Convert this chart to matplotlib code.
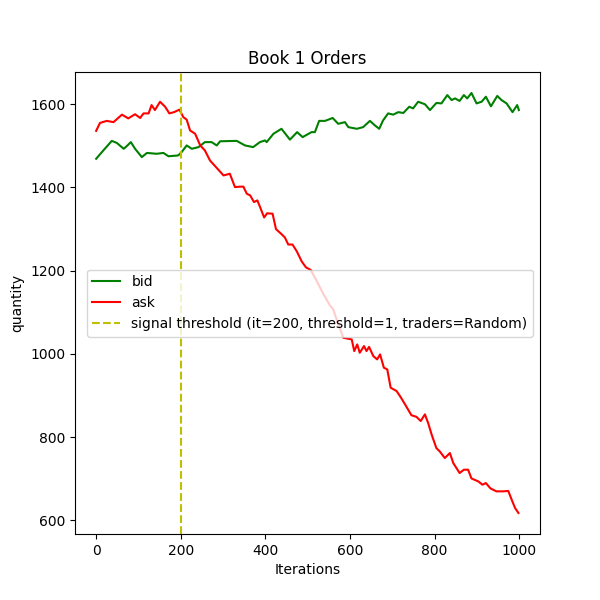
import matplotlib
matplotlib.use('Agg')
import matplotlib.pyplot as plt

# values (iteration, quantity)
bid_x = [0, 17, 37, 49, 65, 72, 82, 92, 108, 120, 143, 159, 171, 194, 202, 214, 226, 242, 257, 273,
         285, 293, 332, 352, 371, 387, 399, 403, 419, 438, 458, 475, 488, 509, 517, 527, 541, 559, 572, 588,
         596, 616, 631, 647, 659, 669, 678, 690, 702, 714, 726, 740, 749, 761, 777, 789, 804, 816, 830, 840,
         848, 859, 869, 877, 887, 899, 911, 921, 933, 948, 958, 970, 984, 995, 999]
bid_y = [1469, 1489, 1512, 1507, 1493, 1499, 1509, 1493, 1473, 1483, 1481, 1483, 1475, 1477, 1485, 1501, 1493, 1497, 1509, 1509,
         1501, 1511, 1512, 1501, 1497, 1509, 1513, 1509, 1529, 1541, 1515, 1533, 1521, 1533, 1533, 1560, 1560, 1567, 1553, 1557,
         1545, 1541, 1545, 1560, 1549, 1541, 1561, 1578, 1575, 1581, 1579, 1594, 1590, 1606, 1600, 1586, 1603, 1602, 1622, 1610,
         1614, 1608, 1622, 1614, 1627, 1602, 1606, 1618, 1595, 1620, 1610, 1602, 1581, 1598, 1586]

ask_x = [0, 9, 25, 41, 61, 76, 92, 104, 112, 124, 131, 139, 151, 163, 173, 184, 197, 206, 214, 222,
         234, 246, 257, 269, 285, 301, 316, 328, 340, 348, 356, 364, 373, 381, 387, 397, 404, 417, 425, 438,
         446, 454, 464, 474, 486, 496, 507, 521, 537, 553, 560, 572, 584, 604, 610, 617, 623, 633, 639, 645,
         655, 664, 671, 680, 688, 696, 710, 718, 730, 745, 757, 767, 777, 785, 793, 804, 812, 824, 836, 844,
         859, 869, 879, 887, 903, 913, 921, 932, 946, 962, 974, 982, 990, 998]
ask_y = [1536, 1555, 1560, 1557, 1575, 1566, 1576, 1567, 1578, 1578, 1598, 1586, 1606, 1594, 1578, 1581, 1587, 1569, 1563, 1537,
         1529, 1501, 1489, 1465, 1447, 1429, 1433, 1401, 1402, 1402, 1385, 1381, 1365, 1369, 1354, 1328, 1338, 1337, 1300, 1288,
         1280, 1263, 1263, 1247, 1222, 1208, 1202, 1176, 1144, 1116, 1108, 1072, 1039, 1035, 1007, 1023, 1003, 1019, 1007, 1017,
         995, 987, 999, 967, 963, 919, 911, 899, 879, 853, 849, 839, 855, 833, 806, 774, 766, 750, 762, 738,
         714, 722, 722, 701, 694, 686, 690, 677, 670, 670, 671, 650, 630, 618]

signal_it = 200
threshold = 1
traders = 'Random'

fig = plt.figure(figsize=(6, 6), dpi=100)
plt.plot(bid_x, bid_y, color='g', label='bid')
plt.plot(ask_x, ask_y, color='r', label='ask')
plt.axvline(signal_it, color='y', linestyle='--',
            label=f'signal threshold (it={signal_it}, threshold={threshold}, traders={traders})')
plt.title('Book 1 Orders')
plt.xlabel('Iterations')
plt.ylabel('quantity')
plt.legend(loc='center right')
plt.savefig('out.png')
